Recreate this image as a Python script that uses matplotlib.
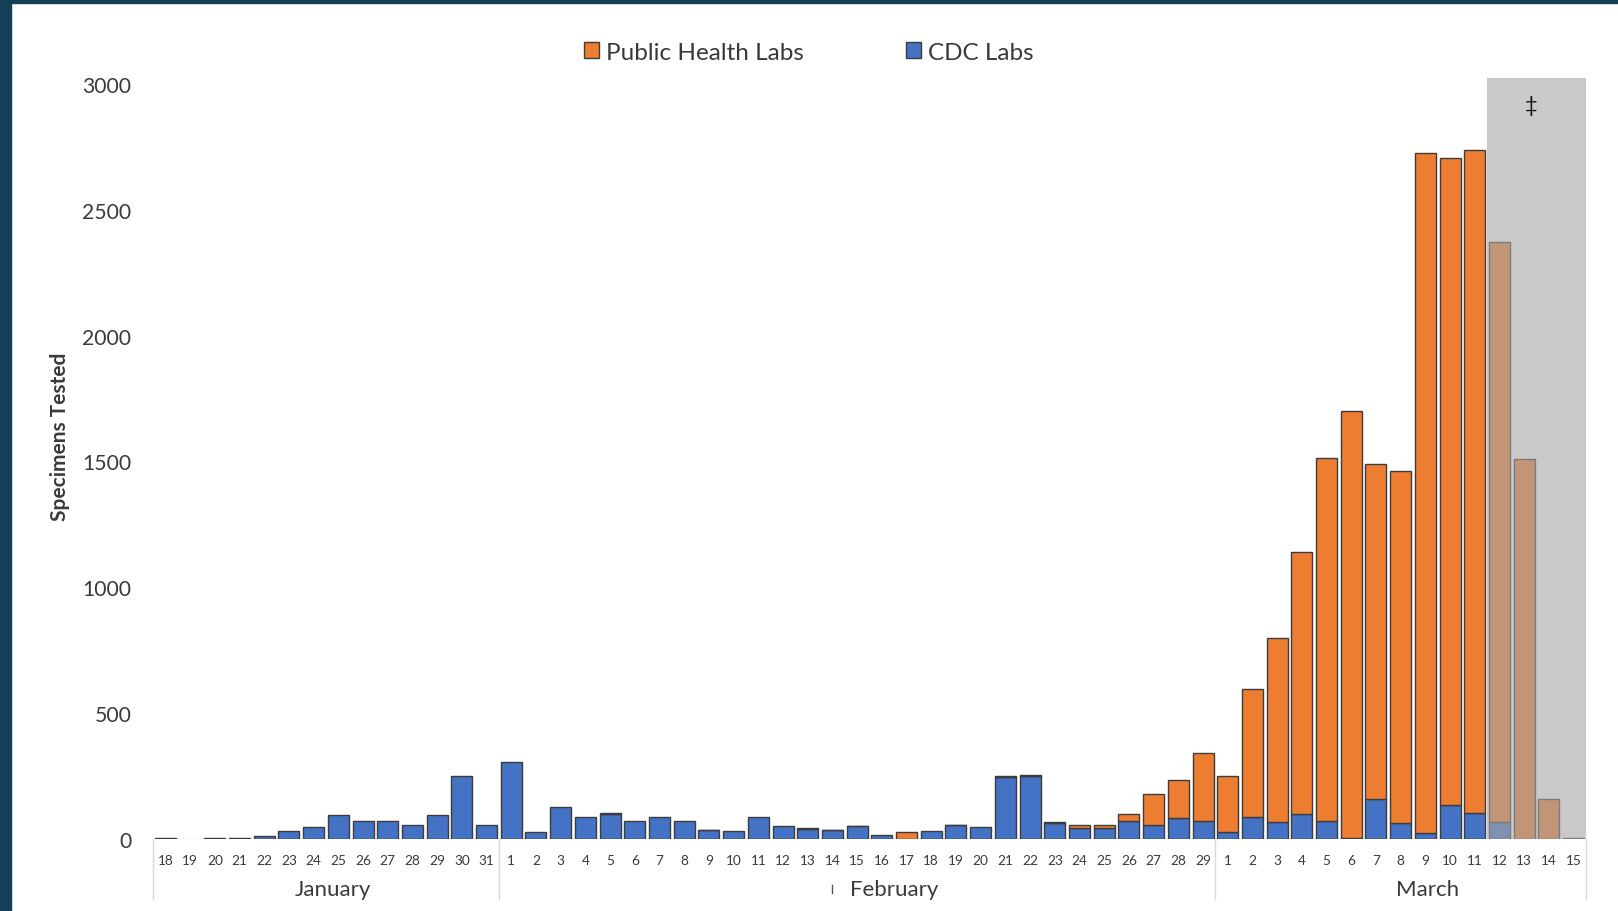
import numpy as np
import matplotlib
matplotlib.use("Agg")
import matplotlib.pyplot as plt
from matplotlib.patches import Rectangle, Patch

plt.rcParams['font.family'] = ['Lato', 'DejaVu Sans']

# Daily specimens tested, Jan 18 - Mar 15
days = ([str(d) for d in range(18, 32)] +
        [str(d) for d in range(1, 30)] +
        [str(d) for d in range(1, 16)])

cdc_labs = [
    # January 18-31
    4, 0, 4, 4, 10, 33, 48, 97, 73, 73, 57, 97, 249, 57,
    # February 1-29
    304, 27, 128, 87, 100, 73, 87, 73, 35, 33, 87, 52, 40, 35, 50, 16, 0,
    33, 55, 48, 246, 251, 64, 45, 45, 73, 57, 82, 71,
    # March 1-15
    26, 88, 66, 98, 71, 4, 159, 64, 24, 135, 103, 66, 0, 0, 0,
]
public_health_labs = [
    # January 18-31
    0, 0, 0, 0, 0, 0, 0, 0, 0, 0, 0, 0, 0, 0,
    # February 1-29
    0, 0, 0, 0, 3, 0, 0, 0, 2, 0, 0, 0, 2, 2, 2, 0, 27,
    0, 2, 0, 3, 3, 3, 12, 12, 25, 120, 151, 269,
    # March 1-15
    223, 508, 733, 1043, 1442, 1698, 1333, 1400, 2701, 2569, 2636, 2306, 1510, 159, 3,
]
months = ['January', 'February', 'March']
month_lengths = [14, 29, 15]

orange = '#ED7D31'
blue = '#4472C4'
edge = '#3c3c3c'
text_col = '#3a3a3a'

fig = plt.figure(figsize=(16.18, 9.12), dpi=100)
ax = fig.add_axes([153 / 1618, 1 - 840 / 912, (1586 - 153) / 1618, (840 - 85) / 912])

x = np.arange(len(days))
cdc = np.array(cdc_labs)
phl = np.array(public_health_labs)

ax.bar(x, cdc, width=0.85, color=blue,
       edgecolor=[edge if v > 0 else 'none' for v in cdc], linewidth=1.0, zorder=2)
ax.bar(x, phl, bottom=cdc, width=0.85, color=orange,
       edgecolor=[edge if v > 0 else 'none' for v in phl], linewidth=1.0, zorder=2)

ax.set_xlim(-0.5, len(days) - 0.5)
ax.set_ylim(0, 3000)
for s in ax.spines.values():
    s.set_visible(False)
ax.axhline(0, color='#d9d9d9', lw=1, zorder=1)

ax.set_yticks(range(0, 3001, 500))
ax.tick_params(axis='y', length=0, pad=15.5, labelsize=15.2, labelcolor=text_col)
ax.set_xticks(x, days)
ax.tick_params(axis='x', length=0, pad=11, labelsize=9.8, labelcolor=text_col)

# shaded block over the most recent (incomplete) days
ax.add_patch(Rectangle((53.5, 0), 4, 3023, facecolor=(0.65, 0.65, 0.65), alpha=0.6,
                       edgecolor='none', zorder=3, clip_on=False))
ax.text(55.3, 2915, '\u2021', ha='center', va='center', fontsize=16,
        color='#111111', zorder=4)

# month grouping under the day labels
xt = ax.get_xaxis_transform()
bounds = np.concatenate([[0], np.cumsum(month_lengths)]) - 0.5
for b in bounds:
    ax.plot([b, b], [0, -0.079], transform=xt, color='#d9d9d9', lw=1, clip_on=False)
month_label_x = [6.8, 29.5, 51.1]
for mx, name in zip(month_label_x, months):
    ax.text(mx, -0.066, name, transform=xt, ha='center', va='center',
            fontsize=16, color=text_col)
ax.plot([26.98, 26.98], [-0.061, -0.071], transform=xt, color='#555555', lw=1, clip_on=False)

fig.text(60 / 1618, 1 - 437 / 912, 'Specimens Tested', rotation=90, ha='center', va='center',
         fontsize=15, fontweight='bold', color=text_col)

handles = [Patch(facecolor=orange, edgecolor=edge), Patch(facecolor=blue, edgecolor=edge)]
fig.legend(handles, ['Public Health Labs', 'CDC Labs'], loc='center',
           bbox_to_anchor=(809 / 1618, 1 - 53 / 912), ncol=2, frameon=False,
           fontsize=17.5, handlelength=0.62, handleheight=0.62, handletextpad=0.29,
           columnspacing=4.2, labelcolor=text_col)

# dark slide border on the left and top
fig.patches.append(Rectangle((0, 0), 11 / 1618, 1, transform=fig.transFigure,
                             color='#133f57', zorder=0))
fig.patches.append(Rectangle((0, 1 - 4 / 912), 1, 4 / 912, transform=fig.transFigure,
                             color='#133f57', zorder=0))

fig.savefig('out.png', dpi=100)
